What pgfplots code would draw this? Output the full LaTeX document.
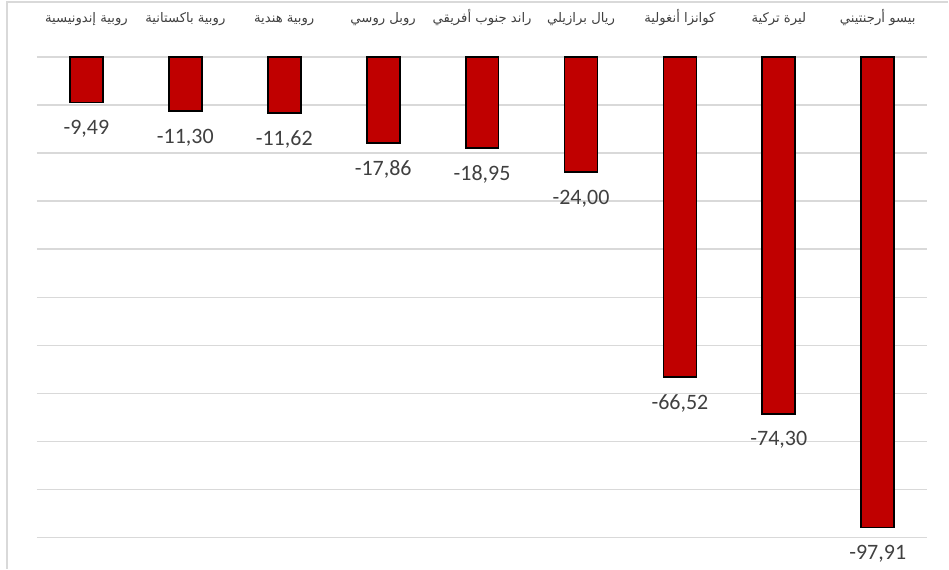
\documentclass[border=0pt]{standalone}
\usepackage{fontspec}
\setmainfont{Carlito}
\newfontfamily\arabicfont[Script=Arabic]{DejaVu Sans}
\TeXXeTstate=1
\usepackage{pgfplots}
\pgfplotsset{compat=1.18}
\definecolor{barred}{HTML}{C00000}
\definecolor{gridgray}{HTML}{D9D9D9}
\definecolor{labgray}{HTML}{404040}
\begin{document}
\begin{tikzpicture}
\path (0,0) rectangle (474.5pt,284.5pt);
\draw[gridgray, line width=0.8pt] (3.5pt,0) -- (3.5pt,283.5pt) -- (474.5pt,283.5pt);
\begin{axis}[
  at={(18.5pt,15.5pt)}, anchor=south west,
  scale only axis, width=445.5pt, height=240.5pt,
  ybar, bar width=16.5pt,
  xmin=-0.5, xmax=8.5, ymin=-100, ymax=0,
  ytick={-100,-90,...,0}, yticklabels={},
  ymajorgrids, grid style={gridgray, line width=0.75pt},
  axis line style={draw=none},
  major tick length=0pt,
  xtick={0,...,8},
  xticklabel pos=upper,
  xticklabels={
    {\arabicfont\beginR روبية إندونيسية\endR},
    {\arabicfont\beginR روبية باكستانية\endR},
    {\arabicfont\beginR روبية هندية\endR},
    {\arabicfont\beginR روبل روسي\endR},
    {\arabicfont\beginR راند جنوب أفريقي\endR},
    {\arabicfont\beginR ريال برازيلي\endR},
    {\arabicfont\beginR كوانزا أنغولية\endR},
    {\arabicfont\beginR ليرة تركية\endR},
    {\arabicfont\beginR بيسو أرجنتيني\endR}},
  xticklabel style={font=\fontsize{6.6}{7}\selectfont, text=labgray, yshift=12pt},
  nodes near coords,
  every node near coord/.append style={anchor=north, yshift=-5pt, font=\fontsize{11}{12}\selectfont, text=labgray},
  /pgf/number format/.cd, fixed, fixed zerofill, precision=2, use comma, 1000 sep={}, assume math mode=true,
]
\addplot[fill=barred, draw=black, line width=0.9pt] coordinates {
(0,-9.49) (1,-11.30) (2,-11.62) (3,-17.86) (4,-18.95) (5,-24.00) (6,-66.52) (7,-74.30) (8,-97.91)};
\end{axis}
\end{tikzpicture}
\end{document}
